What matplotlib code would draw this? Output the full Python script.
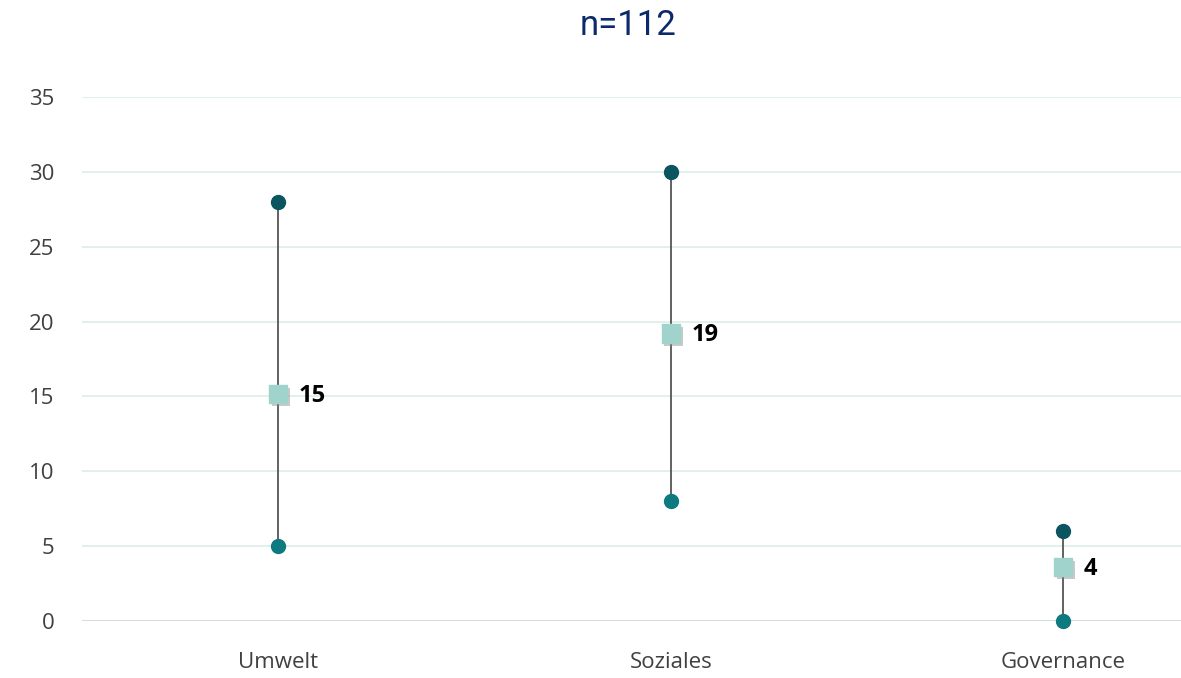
import matplotlib.pyplot as plt
import matplotlib.patheffects as pe

categories = ["Umwelt", "Soziales", "Governance"]
max_vals = [28, 30, 6]
min_vals = [5, 8, 0]
mean_vals = [15.15, 19.2, 3.6]
mean_labels = ["15", "19", "4"]

fig = plt.figure(figsize=(11.81, 6.78), dpi=100)
ax = fig.add_axes([0.0694, 0.084, 0.9306, 0.773])

x = list(range(len(categories)))

# grid
ax.set_ylim(0, 35)
ax.set_xlim(-0.5, 2.3)
ax.set_yticks(range(0, 36, 5))
ax.grid(axis="y", color="#dcede8", linewidth=1.2)
ax.set_axisbelow(True)
for s in ax.spines.values():
    s.set_visible(False)
ax.axhline(0, color="#cfd8d6", linewidth=1.2, zorder=1)

# range lines
for xi, lo, hi in zip(x, min_vals, max_vals):
    ax.plot([xi, xi], [lo, hi], color="#555555", linewidth=1.3, zorder=2)

ax.scatter(x, max_vals, s=100, color="#0a5560", zorder=3, clip_on=False)
ax.scatter(x, min_vals, s=100, color="#0d7a80", zorder=3, clip_on=False)

shadow = [pe.SimplePatchShadow(offset=(2, -2), shadow_rgbFace="#888888", alpha=0.45), pe.Normal()]
ax.scatter(x, mean_vals, s=175, marker="s", color="#9fd3cc", zorder=4,
           path_effects=shadow)

for xi, m, lab in zip(x, mean_vals, mean_labels):
    ax.annotate(lab, (xi, m), xytext=(15, -1), textcoords="offset points",
                va="center", ha="left", fontsize=17, fontweight="bold",
                color="#000000", family="Open Sans")

ax.set_xticks(x)
ax.set_xticklabels(categories)
ax.tick_params(length=0, labelsize=16, labelcolor="#404040")
ax.tick_params(axis="x", pad=22)
ax.tick_params(axis="y", pad=20)
for t in ax.get_xticklabels() + ax.get_yticklabels():
    t.set_family("Open Sans")

fig.text(0.532, 0.963, "n=112", ha="center", va="center", fontsize=25,
         color="#0c2a6b", family="Roboto")

fig.savefig("out.png", dpi=100)
